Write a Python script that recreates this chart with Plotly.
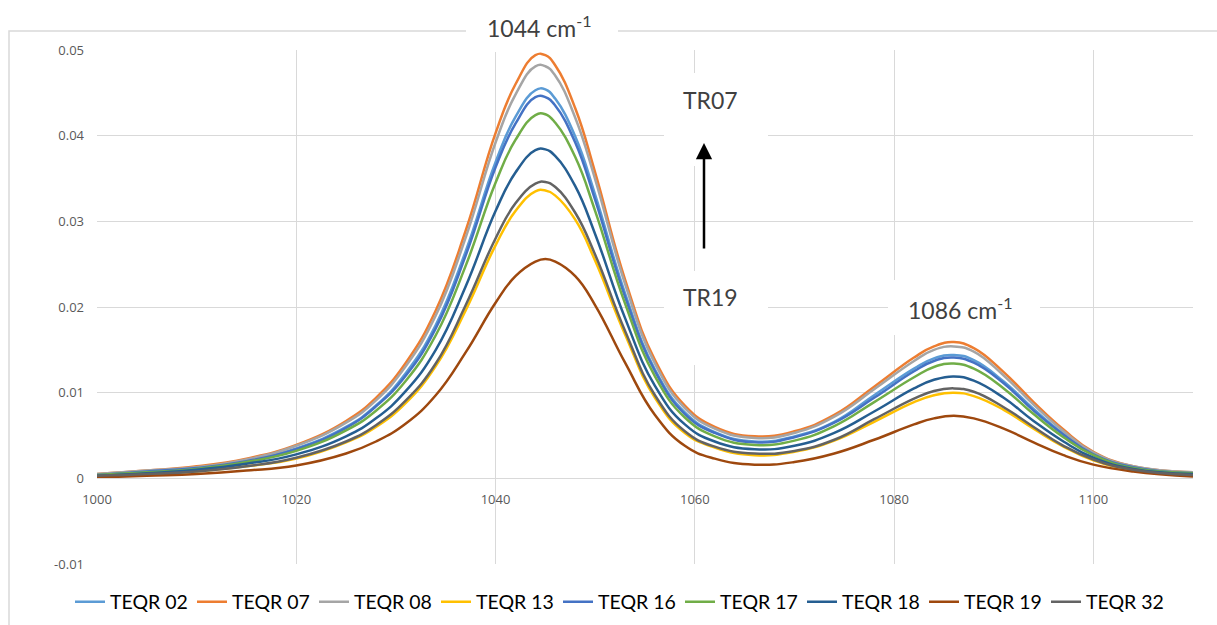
import plotly.graph_objects as go

# ---------------- data ----------------
wavenumber = [1000, 1005, 1010, 1015, 1020, 1025, 1028, 1031, 1034, 1037, 1040, 1042, 1044, 1045,
              1046, 1048, 1050, 1053, 1056, 1059, 1062, 1066, 1070, 1074, 1078, 1082, 1084, 1086,
              1088, 1091, 1094, 1097, 1100, 1104, 1110]

teqr_02 = [0.0004, 0.0008, 0.0013, 0.0021, 0.0035, 0.0060, 0.0085, 0.0123, 0.0179, 0.0265, 0.0369, 0.0422,
           0.0453, 0.0454, 0.0443, 0.0399, 0.0331, 0.0216, 0.0127, 0.0077, 0.0054, 0.0043, 0.0049, 0.0066,
           0.0097, 0.0128, 0.0140, 0.0144, 0.0138, 0.0113, 0.0081, 0.0052, 0.0029, 0.0013, 0.0006]
teqr_07 = [0.0005, 0.0009, 0.0014, 0.0023, 0.0039, 0.0067, 0.0094, 0.0135, 0.0196, 0.0289, 0.0403, 0.0460,
           0.0494, 0.0494, 0.0482, 0.0432, 0.0357, 0.0232, 0.0138, 0.0085, 0.0060, 0.0049, 0.0055, 0.0074,
           0.0107, 0.0141, 0.0154, 0.0159, 0.0152, 0.0124, 0.0089, 0.0057, 0.0031, 0.0014, 0.0007]
teqr_08 = [0.0005, 0.0009, 0.0013, 0.0022, 0.0038, 0.0065, 0.0091, 0.0131, 0.0190, 0.0281, 0.0392, 0.0448,
           0.0481, 0.0481, 0.0470, 0.0421, 0.0349, 0.0227, 0.0134, 0.0082, 0.0058, 0.0047, 0.0053, 0.0072,
           0.0104, 0.0137, 0.0150, 0.0154, 0.0148, 0.0120, 0.0086, 0.0055, 0.0030, 0.0014, 0.0007]
teqr_13 = [0.0002, 0.0005, 0.0008, 0.0014, 0.0023, 0.0042, 0.0060, 0.0088, 0.0131, 0.0196, 0.0272, 0.0312,
           0.0335, 0.0336, 0.0330, 0.0302, 0.0254, 0.0168, 0.0094, 0.0053, 0.0036, 0.0027, 0.0031, 0.0044,
           0.0066, 0.0089, 0.0097, 0.0100, 0.0096, 0.0080, 0.0058, 0.0037, 0.0021, 0.0010, 0.0004]
teqr_16 = [0.0004, 0.0008, 0.0012, 0.0020, 0.0034, 0.0059, 0.0084, 0.0120, 0.0175, 0.0260, 0.0363, 0.0414,
           0.0445, 0.0445, 0.0435, 0.0392, 0.0325, 0.0212, 0.0125, 0.0075, 0.0053, 0.0042, 0.0048, 0.0065,
           0.0094, 0.0125, 0.0137, 0.0141, 0.0135, 0.0111, 0.0079, 0.0051, 0.0028, 0.0013, 0.0006]
teqr_17 = [0.0004, 0.0007, 0.0011, 0.0019, 0.0032, 0.0056, 0.0079, 0.0114, 0.0167, 0.0248, 0.0345, 0.0395,
           0.0424, 0.0425, 0.0415, 0.0375, 0.0312, 0.0204, 0.0119, 0.0071, 0.0049, 0.0039, 0.0044, 0.0061,
           0.0089, 0.0118, 0.0130, 0.0134, 0.0128, 0.0105, 0.0075, 0.0048, 0.0027, 0.0012, 0.0006]
teqr_18 = [0.0003, 0.0006, 0.0010, 0.0017, 0.0028, 0.0049, 0.0070, 0.0102, 0.0150, 0.0224, 0.0312, 0.0357,
           0.0383, 0.0384, 0.0376, 0.0341, 0.0285, 0.0187, 0.0108, 0.0063, 0.0043, 0.0034, 0.0038, 0.0053,
           0.0078, 0.0105, 0.0115, 0.0119, 0.0114, 0.0094, 0.0067, 0.0043, 0.0024, 0.0011, 0.0005]
teqr_19 = [0.0001, 0.0003, 0.0005, 0.0009, 0.0015, 0.0029, 0.0043, 0.0064, 0.0097, 0.0147, 0.0205, 0.0236,
           0.0253, 0.0256, 0.0253, 0.0236, 0.0202, 0.0135, 0.0074, 0.0038, 0.0023, 0.0016, 0.0019, 0.0029,
           0.0045, 0.0063, 0.0070, 0.0073, 0.0070, 0.0058, 0.0042, 0.0027, 0.0016, 0.0008, 0.0002]
teqr_32 = [0.0003, 0.0005, 0.0008, 0.0014, 0.0024, 0.0043, 0.0062, 0.0091, 0.0134, 0.0202, 0.0280, 0.0321,
           0.0344, 0.0346, 0.0340, 0.0310, 0.0261, 0.0172, 0.0097, 0.0055, 0.0037, 0.0029, 0.0032, 0.0045,
           0.0069, 0.0093, 0.0102, 0.0105, 0.0101, 0.0083, 0.0060, 0.0038, 0.0022, 0.0010, 0.0004]

series_names = ["TEQR 02", "TEQR 07", "TEQR 08", "TEQR 13", "TEQR 16",
                "TEQR 17", "TEQR 18", "TEQR 19", "TEQR 32"]
series_values = [teqr_02, teqr_07, teqr_08, teqr_13, teqr_16, teqr_17, teqr_18, teqr_19, teqr_32]

x_ticks = [1000, 1020, 1040, 1060, 1080, 1100]
x_tick_labels = ["1000", "1020", "1040", "1060", "1080", "1100"]
y_ticks = [-0.01, 0, 0.01, 0.02, 0.03, 0.04, 0.05]
y_tick_labels = ["-0.01", "0", "0.01", "0.02", "0.03", "0.04", "0.05"]

# ---------------- styling ----------------
colors = ["#5B9BD5", "#ED7D31", "#A5A5A5", "#FFC000", "#4472C4",
          "#70AD47", "#255E91", "#9E480E", "#636363"]

W, H = 1217, 625
L, R, T, B = 97, 1193, 50, 564
PW, PH = R - L, B - T


def px_x(px):
    return (px - L) / PW


def px_y(py):
    return (B - py) / PH


fig = go.Figure()
for name, vals, col in zip(series_names, series_values, colors):
    fig.add_trace(go.Scatter(x=wavenumber, y=vals, mode="lines", name=name,
                             line=dict(color=col, width=2.5, shape="spline", smoothing=1.3)))

tick_font = dict(family="Open Sans", size=13, color="#595959")
grid = "#d9d9d9"

fig.update_layout(
    width=W, height=H,
    margin=dict(l=L, r=W - R, t=T, b=H - B, pad=0, autoexpand=False),
    paper_bgcolor="white", plot_bgcolor="white",
    showlegend=True,
    legend=dict(orientation="h", x=px_x(70), y=px_y(602), xanchor="left", yanchor="middle",
                font=dict(family="Lato", size=19.5, color="#000000"),
                itemwidth=30, entrywidth=77, entrywidthmode="pixels",
                bgcolor="rgba(0,0,0,0)"),
    xaxis=dict(range=[1000, 1110], tickvals=x_ticks, ticktext=x_tick_labels,
               showgrid=True, gridcolor=grid, gridwidth=1, zeroline=False,
               showline=True, linecolor=grid, linewidth=1,
               anchor="free", position=px_y(478), ticks="", ticklabelstandoff=9,
               tickfont=tick_font),
    yaxis=dict(range=[-0.01, 0.05], tickvals=y_ticks, ticktext=y_tick_labels,
               showgrid=True, gridcolor=grid, gridwidth=1, zeroline=False,
               showline=False, ticks="", ticklabelstandoff=12, tickfont=tick_font),
)

shapes = [
    # outer chart border
    dict(type="rect", xref="paper", yref="paper", x0=px_x(9), x1=px_x(1240), y0=px_y(640), y1=px_y(31),
         line=dict(color="#d9d9d9", width=1.5), fillcolor="rgba(0,0,0,0)", layer="below"),
]
# white label boxes (pixel extents)
for (x0, x1, y0, y1) in [(466, 618, -5, 52), (664, 768, 73, 166), (664, 768, 271, 365), (888, 1040, 280, 335)]:
    shapes.append(dict(type="rect", xref="paper", yref="paper", x0=px_x(x0), x1=px_x(x1),
                       y0=px_y(y1), y1=px_y(y0), line=dict(width=0), fillcolor="white", layer="above"))
fig.update_layout(shapes=shapes)

ann_font = dict(family="Lato", size=23, color="#404040")
annotations = [
    dict(text="1044 cm<sup>-1</sup>", x=px_x(539), y=px_y(27)),
    dict(text="TR07", x=px_x(710), y=px_y(100)),
    dict(text="TR19", x=px_x(710), y=px_y(297)),
    dict(text="1086 cm<sup>-1</sup>", x=px_x(960), y=px_y(308)),
]
for a in annotations:
    a.update(xref="paper", yref="paper", showarrow=False, font=ann_font,
             xanchor="center", yanchor="middle")
annotations.append(dict(text="", xref="paper", yref="paper", x=px_x(704), y=px_y(143),
                        showarrow=True, ax=0, ay=107, arrowhead=2, arrowsize=1.3,
                        arrowwidth=2.5, arrowcolor="#000000"))
fig.update_layout(annotations=annotations)

fig.write_html("out.html")
